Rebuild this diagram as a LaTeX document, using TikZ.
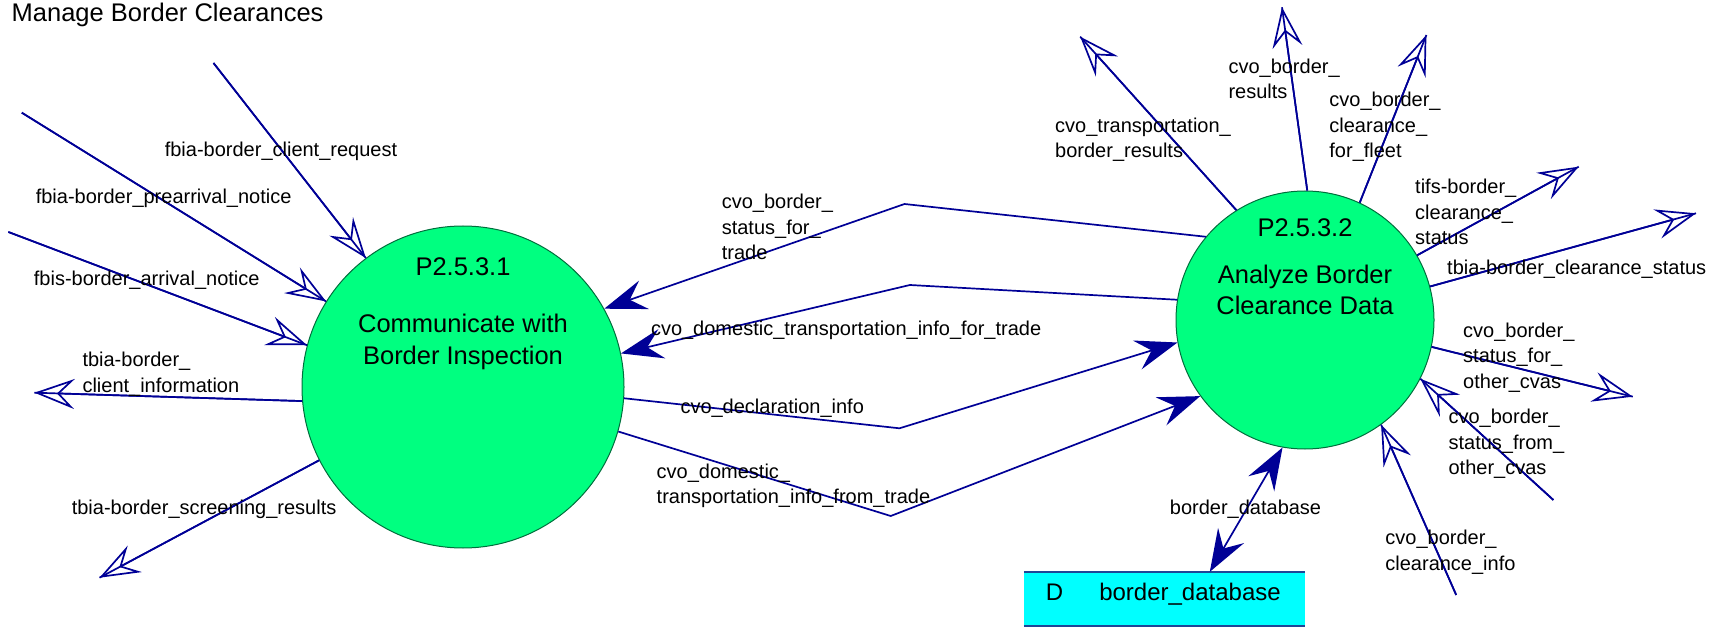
\documentclass[tikz,border=0pt]{standalone}
\usepackage{fontspec}
\setmainfont{Liberation Sans}
\usetikzlibrary{arrows.meta}
\definecolor{flowblue}{RGB}{0,0,150}
\definecolor{procfill}{RGB}{0,255,128}
\definecolor{procline}{RGB}{0,110,60}
\definecolor{storefill}{RGB}{0,255,255}
\definecolor{storeline}{RGB}{30,70,150}
\tikzset{
  proc/.style={circle, draw=procline, fill=procfill, line width=1pt, inner sep=0pt},
  ptext/.style={inner sep=0pt, font=\fontsize{25.5}{31.5}\selectfont},
  dstext/.style={inner sep=0pt, font=\fontsize{24}{28}\selectfont},
  lab/.style={anchor=west, inner sep=0pt, align=left, font=\fontsize{20}{25.5}\selectfont},
  flow/.style={draw=flowblue, line width=1.7pt},
  opentip/.tip={Stealth[open, length=40pt, width=30pt, inset=15pt]},
  filltip/.tip={Stealth[length=42pt, width=30pt, inset=15pt, fill=flowblue]},
  ext/.style={flow, -opentip, postaction={draw=flowblue, line width=1.7pt, arrows=-}},
  int/.style={flow, -filltip, line join=miter},
  storeedge/.style={draw=storeline, line width=2pt}
}
\begin{document}
\begin{tikzpicture}[x=1pt, y=-1pt]
\useasboundingbox (0,0) rectangle (1719,628);

% title
\node[anchor=west, inner sep=0pt, font=\fontsize{25.5}{30}\selectfont] (title) at (11.5,15) {Manage Border Clearances};

% processes
\node[proc, minimum size=322pt] (p1) at (463,387) {};
\node[ptext] (p1id) at (463,267) {P2.5.3.1};
\node[ptext, align=center, font=\fontsize{25.5}{32}\selectfont] (p1name) at (463,342) {Communicate with\\Border Inspection};

\node[proc, minimum size=258pt] (p2) at (1305,320) {};
\node[ptext] (p2id) at (1305,228) {P2.5.3.2};
\node[ptext, align=center] (p2name) at (1305,290) {Analyze Border\\Clearance Data};

% data store
\node[fill=storefill, minimum width=281pt, minimum height=54pt, inner sep=0pt] (ds) at (1164.5,599) {};
\draw[storeedge] (ds.north west) -- (ds.north east);
\draw[storeedge] (ds.south west) -- (ds.south east);
\node[dstext] (dsid) at (1054.5,592) {D};
\node[dstext] (dsname) at (1190,594) {border\_database};

% free ends and bends
\coordinate (c1) at (213.5,63);
\coordinate (c2) at (21.8,112.7);
\coordinate (c3) at (8.4,232);
\coordinate (c4) at (34.4,392.7);
\coordinate (c5) at (99.5,577.7);
\coordinate (b6) at (904.5,204);
\coordinate (b7) at (909.9,285);
\coordinate (b8) at (899.5,428.3);
\coordinate (b9) at (890.7,516);
\coordinate (c11) at (1080.2,36.7);
\coordinate (c12) at (1282,7.3);
\coordinate (c13) at (1426.4,35);
\coordinate (c14) at (1578.7,166.7);
\coordinate (c15) at (1696,213.3);
\coordinate (c16) at (1632.8,396.7);
\coordinate (c17) at (1553.4,500);
\coordinate (c18) at (1456.2,595);

% external flows of P2.5.3.1
\draw[ext] (c1) -- (p1.127.3);
\draw[ext] (c2) -- (p1.148.6);
\draw[ext] (c3) -- (p1.165.8);
\draw[ext] (p1.185.3) -- (c4);
\draw[ext] (p1.207.9) -- (c5);

% internal flows
\draw[int] (p2.140.2) -- (b6) -- (p1.29.7);
\draw[int] (p2.171.5) -- (b7) -- (p1.12);
\draw[int] (p1.-4.6) -- (b8) -- (p2.190);
\draw[int] (p1.-16.1) -- (b9) -- (p2.216.9);
\draw[flow, filltip-filltip] (p2.260.5) -- ([xshift=186pt]ds.north west);

% external flows of P2.5.3.2
\draw[ext] (p2.122.6) -- (c11);
\draw[ext] (p2.89.4) -- (c12);
\draw[ext] (p2.65.8) -- (c13);
\draw[ext] (p2.30.6) -- (c14);
\draw[ext] (p2.15.5) -- (c15);
\draw[ext] (p2.-12.9) -- (c16);
\draw[ext] (c17) -- (p2.-27.7);
\draw[ext] (c18) -- (p2.-54.5);

% labels
\node[lab] (l1) at (164.6,151.7) {fbia-border\_client\_request};
\node[lab] (l2) at (35.6,198) {fbia-border\_prearrival\_notice};
\node[lab] (l3) at (33.7,280) {fbis-border\_arrival\_notice};
\node[lab] (l4) at (82.3,374) {tbia-border\_\\client\_information};
\node[lab] (l5) at (71.6,509) {tbia-border\_screening\_results};
\node[lab] (l6) at (721.6,227) {cvo\_border\_\\status\_for\_\\trade};
\node[lab] (l7) at (650.8,330) {cvo\_domestic\_transportation\_info\_for\_trade};
\node[lab] (l8) at (680.3,408.3) {cvo\_declaration\_info};
\node[lab] (l9) at (656.5,486) {cvo\_domestic\_\\transportation\_info\_from\_trade};
\node[lab] (l10) at (1169.7,509.3) {border\_database};
\node[lab] (l11) at (1055,139.5) {cvo\_transportation\_\\border\_results};
\node[lab] (l12) at (1228.3,79) {cvo\_border\_\\results};
\node[lab] (l13) at (1329.2,127) {cvo\_border\_\\clearance\_\\for\_fleet};
\node[lab] (l14) at (1415,212) {tifs-border\_\\clearance\_\\status};
\node[lab] (l15) at (1447,269.3) {tbia-border\_clearance\_status};
\node[lab] (l16) at (1463,357.5) {cvo\_border\_\\status\_for\_\\other\_cvas};
\node[lab] (l17) at (1448.4,444) {cvo\_border\_\\status\_from\_\\other\_cvas};
\node[lab] (l18) at (1385.2,552) {cvo\_border\_\\clearance\_info};
\end{tikzpicture}
\end{document}
